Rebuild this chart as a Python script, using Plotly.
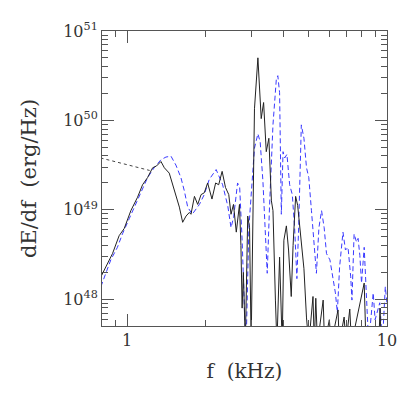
import numpy as np
import plotly.graph_objects as go

# black solid curve: frequency (kHz) and log10 dE/df (erg/Hz)
black_f = [0.792, 0.827, 0.878, 0.931, 0.974, 1.033, 1.096, 1.146, 1.198, 1.253,
           1.297, 1.349, 1.39, 1.452, 1.496, 1.542, 1.588, 1.635, 1.685, 1.735,
           1.76, 1.815, 1.868, 1.925, 1.98, 2.04, 2.12, 2.19, 2.25, 2.32,
           2.39, 2.46, 2.51, 2.565, 2.63, 2.705, 2.74, 2.77, 2.80, 2.85,
           2.91, 2.958, 3.0, 3.09, 3.185, 3.28, 3.35, 3.43, 3.51, 3.59,
           3.64, 3.72, 3.77, 3.86, 3.95, 4.01, 4.1, 4.18, 4.28, 4.35,
           4.45, 4.53, 4.61, 4.71, 4.79, 4.9, 5.0, 5.19, 5.25, 5.32,
           5.4, 5.68, 5.75, 6.0, 6.1, 6.48, 6.55, 6.84, 6.95, 7.19,
           7.3, 8.17, 8.3, 9.3, 9.4, 9.5, 10.0]
black_logE = [48.25, 48.36, 48.51, 48.71, 48.79, 48.99, 49.14, 49.28, 49.36, 49.47,
              49.49, 49.54, 49.47, 49.41, 49.28, 49.14, 49.03, 48.86, 48.93, 48.97,
              48.95, 49.15, 49.06, 49.17, 49.19, 49.30, 49.12, 49.30, 49.28, 49.43,
              49.25, 49.17, 48.95, 49.06, 48.75, 49.06, 48.6, 47.9, 48.3, 47.5,
              48.93, 48.80, 47.5, 50.13, 50.70, 50.02, 50.20, 49.65, 49.80, 49.10,
              48.99, 47.99, 47.5, 48.47, 47.5, 48.66, 48.82, 48.55, 48.03, 48.6,
              49.15, 49.05, 48.85, 48.53, 48.34, 47.79, 47.5, 48.03, 47.5, 48.01,
              47.5, 47.99, 47.5, 47.77, 47.5, 47.88, 47.5, 47.80, 47.5, 47.89,
              47.5, 48.18, 47.5, 47.5, 47.9, 47.5, 47.5]

# blue dashed curve
blue_f = [0.792, 0.827, 0.865, 0.917, 0.959, 1.018, 1.08, 1.14, 1.198, 1.27,
          1.349, 1.41, 1.474, 1.54, 1.61, 1.66, 1.71, 1.78, 1.84, 1.897,
          1.98, 2.07, 2.2, 2.25, 2.33, 2.44, 2.51, 2.57, 2.66, 2.71,
          2.77, 2.83, 2.87, 2.94, 3.0, 3.09, 3.185, 3.25, 3.33, 3.41,
          3.46, 3.53, 3.64, 3.75, 3.8, 3.86, 3.92, 3.98, 4.04, 4.12,
          4.22, 4.32, 4.41, 4.5, 4.57, 4.68, 4.79, 4.9, 5.0, 5.12,
          5.24, 5.35, 5.47, 5.6, 5.73, 5.85, 6.03, 6.2, 6.33, 6.44,
          6.57, 6.77, 6.92, 7.08, 7.25, 7.33, 7.47, 7.63, 7.74, 7.86,
          7.98, 8.17, 8.33, 8.5, 8.85, 9.0, 9.38, 9.6, 9.85, 10.0]
blue_logE = [48.14, 48.29, 48.44, 48.58, 48.73, 48.90, 49.06, 49.21, 49.36, 49.47,
             49.56, 49.59, 49.60, 49.50, 49.36, 49.21, 49.03, 48.95, 49.01, 49.06,
             49.17, 49.34, 49.45, 49.39, 49.28, 49.04, 48.80, 48.92, 49.30, 49.25,
             48.66, 47.85, 47.5, 48.80, 49.21, 49.69, 49.85, 49.76, 49.32, 48.66,
             48.29, 49.03, 49.95, 50.46, 50.50, 50.31, 48.95, 49.65, 49.58, 49.62,
             49.28, 49.17, 48.80, 48.23, 48.80, 49.95, 49.80, 49.47, 49.36, 48.99,
             48.62, 48.29, 48.80, 48.99, 48.80, 48.51, 48.44, 48.25, 48.07, 47.85,
             48.36, 48.75, 48.55, 48.58, 48.25, 47.99, 48.73, 48.64, 48.68, 48.49,
             48.18, 48.58, 48.14, 47.5, 48.07, 47.77, 47.96, 47.5, 48.14, 47.95]

# dotted low-frequency extension
dot_f = [0.79, 1.22]
dot_logE = [49.58, 49.44]

x_major = [1, 10]
x_minor = [0.9, 2, 3, 4, 5, 6, 7, 8, 9]
y_major = [1e48, 1e49, 1e50, 1e51]
y_major_text = ["10<sup>48</sup>", "10<sup>49</sup>", "10<sup>50</sup>", "10<sup>51</sup>"]
y_minor = [m * 10.0 ** d for d in (47, 48, 49, 50) for m in range(2, 10)]

font_family = "DejaVu Serif"
text_color = "#333333"
axis_color = "#555555"

fig = go.Figure()
fig.add_trace(go.Scatter(
    x=dot_f, y=10 ** np.array(dot_logE), mode="lines",
    line=dict(color="#444444", width=1, dash="dot"), showlegend=False,
))
fig.add_trace(go.Scatter(
    x=blue_f, y=10 ** np.array(blue_logE), mode="lines",
    line=dict(color="#3a3aff", width=1, dash="5px,3px"), showlegend=False,
))
fig.add_trace(go.Scatter(
    x=black_f, y=10 ** np.array(black_logE), mode="lines",
    line=dict(color="#222222", width=1), showlegend=False,
))

fig.update_xaxes(
    type="log", range=[np.log10(0.8), 1],
    tickvals=x_major, ticktext=["1", "10"],
    ticks="inside", ticklen=12, tickcolor=axis_color,
    minor=dict(tickvals=x_minor, ticks="inside", ticklen=6, tickcolor=axis_color),
    showline=True, linecolor=axis_color, linewidth=1, mirror="allticks",
    showgrid=False, zeroline=False,
    title=dict(text="f  (kHz)", font=dict(size=20, family=font_family, color=text_color), standoff=14),
    tickfont=dict(size=16, family=font_family, color=text_color),
)
fig.update_yaxes(
    type="log", range=[47.7, 51],
    tickvals=y_major, ticktext=y_major_text,
    ticks="inside", ticklen=12, tickcolor=axis_color,
    minor=dict(tickvals=y_minor, ticks="inside", ticklen=6, tickcolor=axis_color),
    showline=True, linecolor=axis_color, linewidth=1, mirror="allticks",
    showgrid=False, zeroline=False,
    title=dict(text="dE/df  (erg/Hz)", font=dict(size=21, family=font_family, color=text_color), standoff=20),
    tickfont=dict(size=16, family=font_family, color=text_color),
)
# page body has an 8px margin, so the figure is sized/offset to compensate
fig.update_layout(
    width=407, height=407,
    margin=dict(l=94, r=28, t=21, b=89),
    plot_bgcolor="white", paper_bgcolor="white",
)

fig.write_html("out.html")
